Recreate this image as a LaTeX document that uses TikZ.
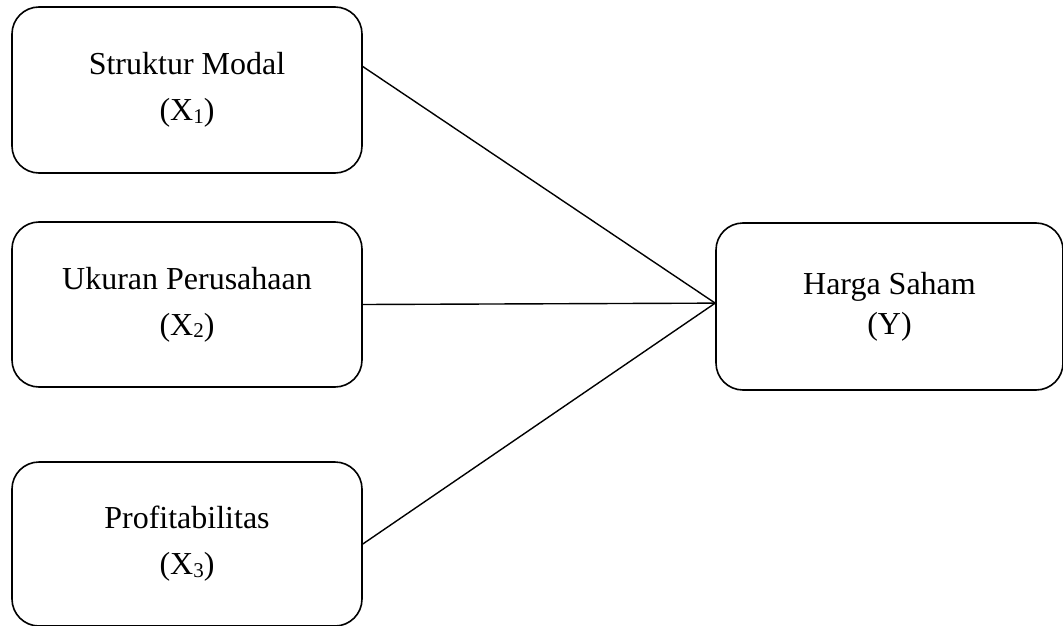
\documentclass[tikz,border=0pt]{standalone}
\usepackage{fontspec}
\setmainfont{Liberation Serif}
\usetikzlibrary{calc}
\newcommand{\lowsub}[1]{\raisebox{-2.5pt}{\fontsize{21}{21}\selectfont #1}}
\begin{document}
\begin{tikzpicture}[x=1pt,y=-1pt,
  varbox/.style={draw, line width=1.6pt, rounded corners=27pt, align=center,
    inner sep=0pt, font=\fontsize{32}{46}\selectfont},
  link/.style={line width=1.4pt}]
\useasboundingbox (0,0) rectangle (1063,626);
\node[varbox, minimum width=350pt, minimum height=166pt] (b1) at (187,90)
  {Struktur Modal\\(X\lowsub{1})};
\node[varbox, minimum width=350pt, minimum height=165pt] (b2) at (187,304.5)
  {Ukuran Perusahaan\\(X\lowsub{2})};
\node[varbox, minimum width=350pt, minimum height=164pt] (b3) at (187,544)
  {Profitabilitas\\(X\lowsub{3})};
\node[varbox, minimum width=347pt, minimum height=167pt,
  font=\fontsize{32}{40}\selectfont] (y) at (889.5,306.5)
  {Harga Saham\\(Y)};
\coordinate (yin) at ($(y.north west)!0.48!(y.south west)$);
\coordinate (b1out) at ($(b1.north east)!0.36!(b1.south east)$);
\draw[link] (b1out) -- (yin);
\draw[link] (b2.east) -- (yin);
\draw[link] (b3.east) -- (yin);
\end{tikzpicture}
\end{document}
